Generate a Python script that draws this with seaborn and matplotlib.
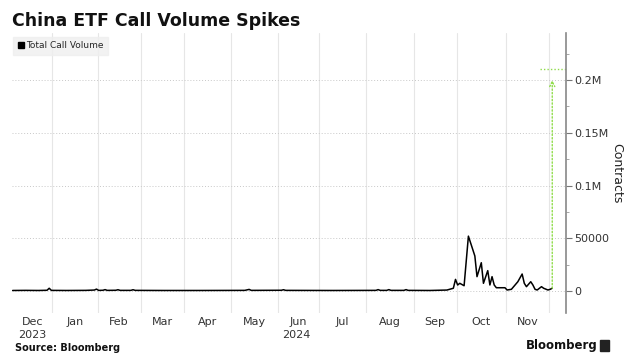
import numpy as np
import pandas as pd
import matplotlib
matplotlib.use("Agg")
import matplotlib.pyplot as plt
import matplotlib.transforms as mtransforms
from matplotlib.lines import Line2D
import seaborn as sns

# ---------------- data ----------------
title = "China ETF Call Volume Spikes"
series_name = "Total Call Volume"
y_label = "Contracts"
source = "Source: Bloomberg"

dates = [
    "2023-12-04", "2023-12-12", "2023-12-20", "2023-12-27", "2023-12-28", "2023-12-29",
    "2024-01-10", "2024-01-24", "2024-01-30", "2024-01-31", "2024-02-01",
    "2024-02-05", "2024-02-06", "2024-02-07", "2024-02-13", "2024-02-14", "2024-02-15",
    "2024-02-23", "2024-02-26", "2024-02-27", "2024-03-15", "2024-04-10", "2024-05-09",
    "2024-05-13", "2024-05-14", "2024-06-04", "2024-06-05", "2024-06-06", "2024-07-10",
    "2024-08-07", "2024-08-08", "2024-08-09", "2024-08-14", "2024-08-15", "2024-08-16",
    "2024-08-26", "2024-08-27", "2024-08-28", "2024-09-12", "2024-09-24",
    "2024-09-27", "2024-09-30", "2024-10-01", "2024-10-02", "2024-10-04", "2024-10-08",
    "2024-10-10", "2024-10-11", "2024-10-14", "2024-10-16", "2024-10-17", "2024-10-21",
    "2024-10-22", "2024-10-23", "2024-10-24", "2024-10-25", "2024-10-31", "2024-11-01",
    "2024-11-05", "2024-11-08", "2024-11-12", "2024-11-13", "2024-11-14", "2024-11-18",
    "2024-11-19", "2024-11-20", "2024-11-21", "2024-11-25", "2024-11-26", "2024-11-29",
    "2024-12-02", "2024-12-03",
]
volume = [
    500, 600, 500, 700, 2600, 600,
    500, 600, 900, 1800, 600,
    700, 1300, 600, 700, 1200, 600,
    600, 1200, 600, 500, 500, 600,
    1500, 600, 700, 1200, 600, 500,
    600, 1300, 600, 600, 1300, 600,
    600, 1300, 600, 500, 900,
    2600, 11000, 5700, 7300, 5000, 52000,
    39500, 33200, 13600, 26800, 7300, 19300,
    5700, 13600, 5700, 3100, 3100, 950,
    1600, 8800, 16100, 7300, 4100, 8800,
    5700, 1600, 950, 4100, 2600, 950,
    1600, 2600,
]
latest_spike = 210000  # level marked by the green dotted annotation

months = ["Dec", "Jan", "Feb", "Mar", "Apr", "May", "Jun", "Jul", "Aug", "Sep", "Oct", "Nov"]
month_starts = ["2023-12-01", "2024-01-01", "2024-02-01", "2024-03-01", "2024-04-01",
                "2024-05-01", "2024-06-01", "2024-07-01", "2024-08-01", "2024-09-01",
                "2024-10-01", "2024-11-01", "2024-12-01"]
years = ["2023", "2024"]
y_ticks = [0, 50000, 100000, 150000, 200000]
y_tick_labels = ["0", "50000", "0.1M", "0.15M", "0.2M"]

holidays = ["2023-12-25", "2024-01-01", "2024-01-15", "2024-02-19", "2024-03-29",
            "2024-05-27", "2024-06-19", "2024-07-04", "2024-09-02", "2024-11-28",
            "2024-12-25"]

# ---------------- trading-day axis ----------------
cal = pd.bdate_range("2023-12-04", "2024-12-31", freq="C", holidays=holidays)
day_idx = cal.get_indexer(pd.to_datetime(dates))
df = pd.DataFrame({"day": day_idx, "volume": volume})

sns.set_theme(style="white")
plt.rcParams["font.family"] = ["DejaVu Sans"]

fig = plt.figure(figsize=(6.4, 3.64), dpi=100)
ax = fig.add_axes([12 / 640, 1 - 313 / 364, (566 - 12) / 640, (313 - 33) / 364])

# month boundaries in trading-day coordinates
bounds = []
for ms in month_starts:
    i = cal.searchsorted(pd.Timestamp(ms))
    bounds.append(i - 0.5)
last_day = day_idx.max()

x_left, x_right = -0.3, 257.4
ax.set_xlim(x_left, x_right)
ax.set_ylim(-20850, 244550)

# vertical month gridlines
for b in bounds:
    if x_left < b < x_right:
        ax.axvline(b, color="#e6e6e6", lw=0.8, zorder=0)
# horizontal dotted gridlines
for yt in y_ticks:
    ax.axhline(yt, color="#c8c8c8", lw=0.7, ls=(0, (1, 2)), zorder=0)

sns.lineplot(data=df, x="day", y="volume", color="black", lw=1.1, ax=ax,
             label=series_name, legend=False)

# green annotation of the latest spike
green = "#8fdc4a"
ax.annotate("", xy=(last_day, 200000), xytext=(last_day, volume[-1]),
            arrowprops=dict(arrowstyle="->", color=green, lw=1.0, ls=(0, (1, 1.5)),
                            shrinkA=0, shrinkB=0, mutation_scale=9))
ax.plot([last_day - 5.5, x_right], [latest_spike, latest_spike], color=green, lw=1.0,
        ls=(0, (1, 1.5)), clip_on=False)

# x-axis labels (months centred in their span)
tr = mtransforms.blended_transform_factory(ax.transData, ax.transAxes)
centres = []
for k, m in enumerate(months):
    a = max(bounds[k], 0)
    b = min(bounds[k + 1], last_day + 0.5)
    c = (a + b) / 2
    centres.append(c)
    ax.text(c, -0.013, m, transform=tr, ha="center", va="top", fontsize=8, color="#333333")
ax.set_xticks([])
# year labels
ax.text(centres[0], -0.062, years[0], transform=tr, ha="center", va="top", fontsize=8, color="#333333")
ax.text((bounds[1] + last_day) / 2 - 3, -0.062, years[1], transform=tr, ha="center", va="top",
        fontsize=8, color="#333333")

# y axis on the right
ax.yaxis.tick_right()
ax.yaxis.set_label_position("right")
ax.set_yticks(y_ticks)
ax.set_yticklabels(y_tick_labels, fontsize=8, color="#333333")
ax.set_yticks([25000, 75000, 125000, 175000, 225000], minor=True)
ax.tick_params(axis="y", which="major", length=4, width=0.8, color="#777777", pad=2, right=True)
ax.tick_params(axis="y", which="minor", length=2, width=0.6, color="#999999", right=True)
ax.set_ylabel(y_label, rotation=270, fontsize=9, labelpad=10, color="#222222")
ax.set_xlabel("")

for s in ["top", "left", "bottom"]:
    ax.spines[s].set_visible(False)
ax.spines["right"].set_color("#888888")
ax.spines["right"].set_linewidth(1.2)
ax.set_facecolor("white")

# legend
handle = Line2D([], [], marker="s", color="black", linestyle="None", markersize=4.5)
leg = ax.legend([handle], [series_name], loc="upper left", bbox_to_anchor=(0.0, 0.99),
                frameon=True, fontsize=6.5, handletextpad=0.2, handlelength=0.8,
                borderpad=0.5, borderaxespad=0.1, fancybox=False)
leg.get_frame().set_facecolor("#efefef")
leg.get_frame().set_edgecolor("#efefef")

# title & footer
fig.text(12 / 640, 1 - 21 / 364, title, fontsize=12.5, fontweight="bold", va="center", ha="left",
         color="#111111")
fig.text(15 / 640, 1 - 348 / 364, source, fontsize=7, fontweight="bold", va="center", ha="left",
         color="#111111")
fig.text(598 / 640, 1 - 345 / 364, "Bloomberg", fontsize=8.5, fontweight="bold", va="center",
         ha="right", color="#111111")
fig.patches.append(matplotlib.patches.Rectangle((600 / 640, 1 - 351 / 364), 9 / 640, 11 / 364,
                                                transform=fig.transFigure, color="#222222"))

fig.savefig("out.png", dpi=100)
